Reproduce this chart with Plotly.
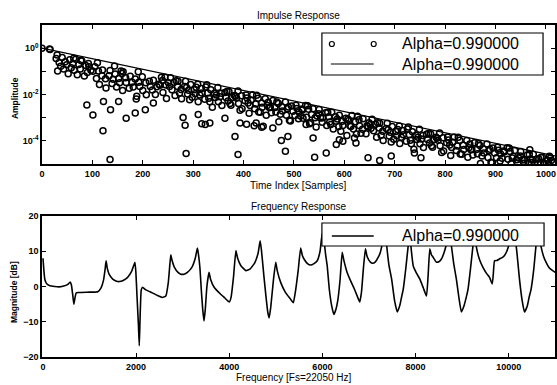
import plotly.graph_objects as go

# ---------------- data ----------------
# Impulse response: sample index and log10(amplitude)
sample_index = [
    # early samples
    0, 15, 16, 28, 30, 31, 34, 37, 40, 43, 46, 49, 52, 55, 58, 61, 63, 64, 67, 70, 73, 76, 77, 79, 84, 87, 90, 92, 93, 97,
    # 100-250
    101, 105, 108, 112, 114, 119, 120, 126, 127, 133, 135, 139, 141, 145, 148, 152, 154, 159, 160, 166, 167, 173, 175,
    179, 181, 185, 188, 192, 194, 199, 200, 206, 207, 213, 215, 219, 221, 225, 228, 232, 234, 239, 240, 246, 247,
    110, 144, 157, 161, 191, 237, 244,
    # 250-1015
    251, 255, 258, 253, 262, 264, 269, 266, 270, 276, 277, 273, 283, 285, 289, 287, 291, 295, 298, 293,
    302, 304, 309, 306, 310, 316, 317, 313, 323, 325, 329, 327, 331, 335, 338, 333, 342, 344, 349, 346,
    350, 356, 357, 353, 363, 365, 369, 367, 371, 375, 378, 373, 382, 384, 389, 386, 390, 396, 397, 393,
    403, 405, 409, 407, 411, 415, 418, 413, 422, 424, 429, 426, 430, 436, 437, 433, 443, 445, 449, 447,
    451, 455, 458, 453, 462, 464, 469, 466, 470, 476, 477, 473, 483, 485, 489, 487, 491, 495, 498, 493,
    502, 504, 509, 506, 510, 516, 517, 513, 523, 525, 529, 527, 531, 535, 538, 533, 542, 544, 549, 546,
    550, 556, 557, 553, 563, 565, 569, 567, 571, 575, 578, 573, 582, 584, 589, 586, 590, 596, 597, 593,
    603, 605, 609, 607, 611, 615, 618, 613, 622, 624, 629, 626, 630, 636, 637, 633, 643, 645, 649, 647,
    651, 655, 658, 653, 662, 664, 669, 666, 670, 676, 677, 673, 683, 685, 689, 687, 691, 695, 698, 693,
    702, 704, 709, 706, 710, 716, 717, 713, 723, 725, 729, 727, 731, 735, 738, 733, 742, 744, 749, 746,
    750, 756, 757, 753, 763, 765, 769, 767, 771, 775, 778, 773, 782, 784, 789, 786, 790, 796, 797, 793,
    803, 805, 809, 807, 811, 815, 818, 813, 822, 824, 829, 826, 830, 836, 837, 833, 843, 845, 849, 847,
    851, 855, 858, 853, 862, 864, 869, 866, 870, 876, 877, 873, 883, 885, 889, 887, 891, 895, 898, 893,
    902, 904, 909, 906, 910, 916, 917, 913, 923, 925, 929, 927, 931, 935, 938, 933, 942, 944, 949, 946,
    950, 956, 957, 953, 963, 965, 969, 967, 971, 975, 978, 973, 982, 984, 989, 986, 990, 996, 997, 993,
    1003, 1005, 1009, 1007, 1011, 1015,
    # isolated low samples
    89, 101, 121, 122, 135, 136, 152, 167, 185, 187, 205, 221, 280, 284, 286, 310, 317, 324, 333, 363, 383, 389, 393,
    406, 421, 425, 436, 439, 458, 475, 483, 488, 518, 524, 538, 541, 564, 584, 590, 597, 620, 623, 647, 670, 693, 739,
    752, 968,
]
amplitude_log10 = [
    0.00, -0.04, -0.06, -0.45, -0.30, -0.99, -0.62, -0.78, -0.40, -0.90, -0.59, -0.72, -1.10, -0.50, -0.85, -0.66, -0.44,
    -0.95, -0.48, -1.15, -0.70, -0.90, -0.52, -0.55, -1.20, -0.75, -1.05, -0.66, -0.80, -0.95,
    -1.00, -0.80, -1.31, -0.99, -1.57, -1.19, -0.94, -1.32, -1.72, -1.19, -0.96, -1.53, -1.34, -1.11, -1.68, -1.31, -1.49,
    -1.09, -1.83, -1.28, -1.48, -1.73, -1.21, -1.47, -1.68, -1.33, -2.08, -1.47, -1.65, -1.23, -1.83, -1.49, -2.01, -1.43,
    -1.65, -1.81, -1.39, -2.00, -1.67, -1.56, -1.60, -1.40, -1.91, -1.59, -2.17,
    -0.63, -0.77, -0.99, -1.02, -1.02, -1.26, -1.26,
    -1.49, -1.28, -1.79, -1.65, -1.47, -2.04, -1.65, -1.41, -1.43, -1.78, -2.18, -1.94, -1.66, -1.43, -1.98, -1.70,
    -1.82, -1.57, -2.12, -2.23,
    -1.79, -1.97, -1.56, -1.69, -2.31, -1.74, -1.93, -2.02, -2.21, -1.68, -1.93, -1.58, -2.16, -1.80, -2.55, -2.31,
    -1.95, -2.13, -1.70, -2.02,
    -2.31, -1.95, -2.47, -2.10, -1.91, -2.13, -2.28, -1.87, -1.87, -2.46, -2.12, -2.39, -2.04, -2.08, -1.85, -2.15,
    -2.39, -2.05, -2.62, -2.68,
    -2.27, -2.02, -2.37, -2.15, -2.81, -2.24, -2.01, -2.48, -2.61, -2.41, -2.16, -2.03, -2.75, -2.37, -2.55, -2.77,
    -2.18, -2.90, -2.33, -2.48,
    -2.56, -2.79, -2.26, -2.56, -2.56, -2.75, -2.39, -2.32, -3.18, -2.53, -2.71, -2.85, -2.32, -2.90, -2.54, -2.61,
    -3.11, -2.50, -2.72, -3.14,
    -2.91, -2.46, -3.05, -2.60, -2.76, -2.63, -2.67, -2.93, -2.48, -2.98, -2.64, -2.49, -3.26, -2.86, -2.61, -3.22,
    -3.00, -3.40, -2.83, -2.93,
    -2.65, -3.20, -3.00, -3.01, -2.79, -3.34, -2.96, -2.77, -3.19, -2.77, -3.49, -3.30, -2.96, -3.15, -3.38, -3.06,
    -2.90, -3.15, -3.34, -3.59,
    -3.02, -3.77, -3.12, -3.06, -3.35, -2.91, -3.49, -3.38, -3.18, -3.70, -3.09, -2.94, -3.35, -3.50, -3.05, -3.67,
    -3.69, -3.35, -3.22, -3.39,
    -3.30, -3.07, -3.57, -3.46, -3.28, -3.85, -3.45, -3.22, -3.24, -3.59, -3.99, -3.76, -3.47, -3.24, -3.79, -3.52,
    -3.63, -3.38, -3.93, -4.05,
    -3.60, -3.78, -3.36, -3.51, -4.12, -3.55, -3.74, -3.84, -4.02, -3.49, -3.74, -3.40, -3.97, -3.61, -4.36, -4.13,
    -3.76, -3.94, -3.50, -3.84,
    -4.13, -3.77, -4.29, -3.92, -3.72, -3.94, -4.09, -3.68, -3.69, -4.28, -3.94, -4.21, -3.85, -3.89, -3.66, -3.97,
    -4.21, -3.87, -4.44, -4.50,
    -4.08, -3.83, -4.18, -3.96, -4.63, -4.06, -3.83, -4.29, -4.42, -4.22, -3.97, -3.85, -4.57, -4.19, -4.37, -4.58,
    -3.99, -4.71, -4.14, -4.30,
    -4.38, -4.61, -4.08, -4.37, -4.37, -4.56, -4.20, -4.13, -4.98, -4.35, -4.53, -4.66, -4.14, -4.72, -4.36, -4.43,
    -4.92, -4.31, -4.53, -4.95,
    -4.73, -4.28, -4.87, -4.41, -4.57, -4.44, -4.48, -4.75, -4.30, -4.80, -4.46, -4.31, -4.98, -4.67, -4.42, -4.74,
    -4.82, -4.96, -4.65, -4.74,
    -4.46, -4.97, -4.81, -4.83, -4.61, -4.95, -4.78, -4.59, -4.93, -4.58, -4.99, -4.82, -4.78, -4.97, -4.98, -4.78,
    -4.72, -4.97, -4.99, -4.71,
    -4.84, -4.98, -4.74, -4.67, -4.84, -4.94,
    -2.45, -2.88, -3.56, -2.30, -4.81, -2.66, -2.30, -3.02, -2.80, -2.19, -2.66, -2.37, -2.99, -3.33, -4.55, -2.86, -3.26,
    -3.30, -3.23, -3.02, -3.81, -4.59, -3.23, -3.28, -3.35, -3.23, -3.41, -3.37, -3.45, -3.99, -4.45, -3.81, -3.02, -3.30,
    -3.88, -4.71, -4.52, -4.16, -3.95, -4.02, -3.88, -4.09, -4.73, -4.85, -4.66, -4.52, -4.73, -4.38,
]
# Decay envelope (straight on the log axis)
envelope_index = [0, 500, 1020]
envelope_amplitude = [1.0, 5.4e-3, 2.2e-5]

# Frequency response magnitude (dB)
freq_hz = [
    0, 20, 40, 80, 150, 250, 350, 464, 540, 585, 610, 640, 663, 690, 713, 760, 1000, 1176, 1250, 1300,
    1335, 1355, 1380, 1420, 1497, 1580, 1640, 1720, 1818, 1900, 1950, 1975, 1995, 2020, 2050, 2068, 2085, 2110,
    2140, 2200, 2300, 2450, 2567, 2638, 2690, 2720, 2745, 2770, 2820, 2900, 2958, 3030, 3101, 3200, 3270, 3316,
    3340, 3372, 3400, 3430, 3458, 3485, 3520, 3565, 3600, 3679, 3800, 3900, 4000, 4040, 4090, 4143, 4180, 4250,
    4357, 4450, 4550, 4620, 4663, 4690, 4740, 4790, 4830, 4856, 4890, 4950, 4998, 5030, 5106, 5200, 5300, 5376,
    5420, 5480, 5533, 5570, 5605, 5680, 5747, 5820, 5889, 5950, 5996, 6030, 6070, 6103, 6150, 6200, 6246, 6290,
    6330, 6380, 6425, 6460, 6531, 6600, 6680, 6750, 6802, 6840, 6880, 6924, 6960, 7031, 7080, 7138, 7200, 7245,
    7300, 7330, 7360, 7380, 7430, 7487, 7550, 7608, 7660, 7700, 7736, 7790, 7843, 7875, 7900, 7950, 8020, 8093,
    8170, 8235, 8270, 8306, 8340, 8378, 8449, 8500, 8556, 8610, 8663, 8710, 8770, 8820, 8877, 8930, 8984, 9040,
    9090, 9127, 9180, 9234, 9270, 9305, 9370, 9448, 9520, 9590, 9647, 9670, 9697, 9750, 9800, 9860, 9911, 9960,
    10011, 10080, 10160, 10200, 10232, 10290, 10339, 10400, 10440, 10481, 10540, 10588, 10640, 10695, 10750,
    10802, 10870, 10945, 11000,
]
magnitude_db = [
    8.0, 4.5, 2.0, 0.8, 0.2, 0.0, -0.1, 0.2, 0.7, 1.3, 0.5, -2.5, -5.0, -3.0, -1.8, -1.7, -1.6, -1.5, -0.3, 1.8,
    5.0, 7.3, 5.2, 3.5, 2.1, 1.5, 1.4, 1.7, 2.6, 4.2, 6.0, 6.9, 4.0, -3.0, -11.0, -16.8, -9.0, -1.0,
    -0.2, -0.9, -1.5, -2.5, -3.1, -2.7, 1.0, 5.5, 9.0, 7.5, 5.5, 4.0, 3.5, 3.5, 4.0, 5.5, 8.0, 10.9,
    9.0, 5.0, -1.0, -6.5, -9.8, -6.5, 0.0, 4.0, 2.0, -0.3, -2.0, -3.2, -4.4, -3.0, 2.5, 10.2, 8.0, 5.9,
    4.5, 5.0, 6.8, 9.5, 13.0, 10.5, 3.5, -3.0, -7.5, -8.9, -6.0, 2.0, 6.9, 4.5, 1.1, -1.5, -3.3, -4.6,
    -1.5, 4.5, 10.9, 8.8, 7.8, 6.5, 6.1, 6.5, 7.3, 10.0, 15.0, 13.5, 9.0, 5.9, -1.0, -5.5, -7.9, -6.5,
    -4.0, 2.0, 9.7, 7.5, 4.0, 1.8, -0.5, -2.8, -4.4, -1.5, 5.0, 10.7, 8.5, 6.9, 6.6, 7.0, 8.3, 9.7,
    13.0, 15.0, 14.5, 11.7, 6.0, 2.1, -4.0, -7.2, -5.5, -3.0, -0.8, 5.0, 11.6, 15.0, 11.5, 5.9, 3.8, 2.1,
    -0.5, -2.7, 3.0, 10.7, 9.0, 8.3, 6.9, 7.0, 7.8, 9.5, 12.0, 15.0, 11.5, 6.5, 2.1, -3.0, -7.2, -5.5,
    -3.0, -0.8, 5.0, 11.6, 15.0, 11.3, 7.8, 5.4, 3.8, 2.6, 0.7, 3.5, 7.3, 7.4, 7.8, 8.2, 8.8, 10.0,
    12.0, 15.0, 11.5, 6.5, 2.1, -4.0, -7.2, -5.5, -3.0, -0.8, 5.0, 11.6, 15.0, 11.3, 8.5,
    6.9, 5.3, 4.5, 4.0,
]

legend_label = "Alpha=0.990000"
imp_xticks = [0, 100, 200, 300, 400, 500, 600, 700, 800, 900, 1000]
imp_yticks = [1, 1e-2, 1e-4]
imp_yticktext = ["10<sup>0</sup>", "10<sup>-2</sup>", "10<sup>-4</sup>"]
imp_minor_yticks = [1e-1, 1e-3]
freq_xticks = [0, 2000, 4000, 6000, 8000, 10000]
freq_xticktext = ["0", "2000", "4000", "6000", "8000", "10000"]
freq_yticks = [-20, -10, 0, 10, 20]

# ---------------- figure ----------------
W, H = 557, 385
ML, MR, MT, MB = 42, 0, 25, 28
PW, PH = W - ML - MR, H - MT - MB


def px(x):
    return (x - ML) / PW


def py(y):
    return (H - MB - y) / PH


amplitude = [10 ** v for v in amplitude_log10]

fig = go.Figure()
fig.add_trace(go.Scatter(
    x=sample_index, y=amplitude, mode="markers", xaxis="x", yaxis="y",
    marker=dict(symbol="circle-open", size=6, color="black", line=dict(width=1.5, color="black")),
    showlegend=False,
))
fig.add_trace(go.Scatter(
    x=envelope_index, y=envelope_amplitude, mode="lines", xaxis="x", yaxis="y",
    line=dict(color="black", width=1.3), showlegend=False,
))
fig.add_trace(go.Scatter(
    x=freq_hz, y=magnitude_db, mode="lines", xaxis="x2", yaxis="y2",
    line=dict(color="black", width=1.6, shape="spline", smoothing=0.4), showlegend=False,
))

tickfont = dict(family="Liberation Sans, Arial, sans-serif", size=9, color="black", weight="bold")
axis_common = dict(
    showline=True, linecolor="black", linewidth=1.5, mirror="ticks",
    ticks="inside", ticklen=4, tickwidth=1.2, tickcolor="black",
    showgrid=False, zeroline=False, tickfont=tickfont,
)

top_lo = py(164)
bot_hi = py(216)

fig.update_layout(
    width=W, height=H,
    margin=dict(l=ML, r=MR, t=MT, b=MB),
    paper_bgcolor="white", plot_bgcolor="white",
    showlegend=False,
    xaxis=dict(domain=[0, 1], anchor="y", range=[0, 1018], tickvals=imp_xticks, **axis_common),
    yaxis=dict(domain=[top_lo, 1], anchor="x", type="log", range=[-5, 1],
               tickvals=imp_yticks, ticktext=imp_yticktext,
               minor=dict(tickvals=imp_minor_yticks, ticks="inside", ticklen=4, tickwidth=1.2,
                          tickcolor="black", showgrid=False),
               **axis_common),
    xaxis2=dict(domain=[0, 1], anchor="y2", range=[-21, 10995], tickvals=freq_xticks,
                ticktext=freq_xticktext, **axis_common),
    yaxis2=dict(domain=[0, bot_hi], anchor="x2", range=[-20, 20], tickvals=freq_yticks, **axis_common),
)

title_font = dict(family="Liberation Sans, Arial, sans-serif", size=10, color="black")
ytitle_font = dict(family="Liberation Sans, Arial, sans-serif", size=8.5, color="black", weight="bold")
annots = [
    dict(text="Impulse Response", x=px(300), y=py(15), font=title_font),
    dict(text="Time Index [Samples]", x=px(300), y=py(185), font=title_font),
    dict(text="Frequency Response", x=px(300), y=py(207), font=title_font),
    dict(text="Frequency [Fs=22050 Hz]", x=px(295), y=py(377), font=title_font),
    dict(text="Amplitude", x=px(15), y=py(98), font=ytitle_font, textangle=-90),
    dict(text="Magnitude [dB]", x=px(14), y=py(292), font=ytitle_font, textangle=-90),
]
legend_font = dict(family="Liberation Sans, Arial, sans-serif", size=16, color="black")
annots += [
    dict(text=legend_label + "<br>" + legend_label, x=px(401), y=py(54), xanchor="left",
         align="left", font=legend_font),
    dict(text=legend_label, x=px(401), y=py(235), xanchor="left", font=legend_font),
]
for a in annots:
    a.setdefault("xanchor", "center")
    a.update(xref="paper", yref="paper", yanchor="middle", showarrow=False)
fig.update_layout(annotations=annots)

row1, row2 = 44, 64
shapes = []
# top legend box
shapes.append(dict(type="rect", x0=px(323), x1=px(545), y0=py(75), y1=py(33),
                   line=dict(color="black", width=1.2), fillcolor="white"))
for cx in (333, 375):
    shapes.append(dict(type="circle", x0=px(cx - 2.5), x1=px(cx + 2.5), y0=py(row1 + 2.5), y1=py(row1 - 2.5),
                       line=dict(color="black", width=1.2), fillcolor="white"))
shapes.append(dict(type="line", x0=px(332), x1=px(375), y0=py(row2), y1=py(row2),
                   line=dict(color="black", width=1.2)))
# bottom legend box
shapes.append(dict(type="rect", x0=px(323), x1=px(546), y0=py(246), y1=py(223),
                   line=dict(color="black", width=1.2), fillcolor="white"))
shapes.append(dict(type="line", x0=px(333), x1=px(375), y0=py(236), y1=py(236),
                   line=dict(color="black", width=1.5)))
for s in shapes:
    s.update(xref="paper", yref="paper", layer="above")
fig.update_layout(shapes=shapes)

fig.write_html("out.html")
